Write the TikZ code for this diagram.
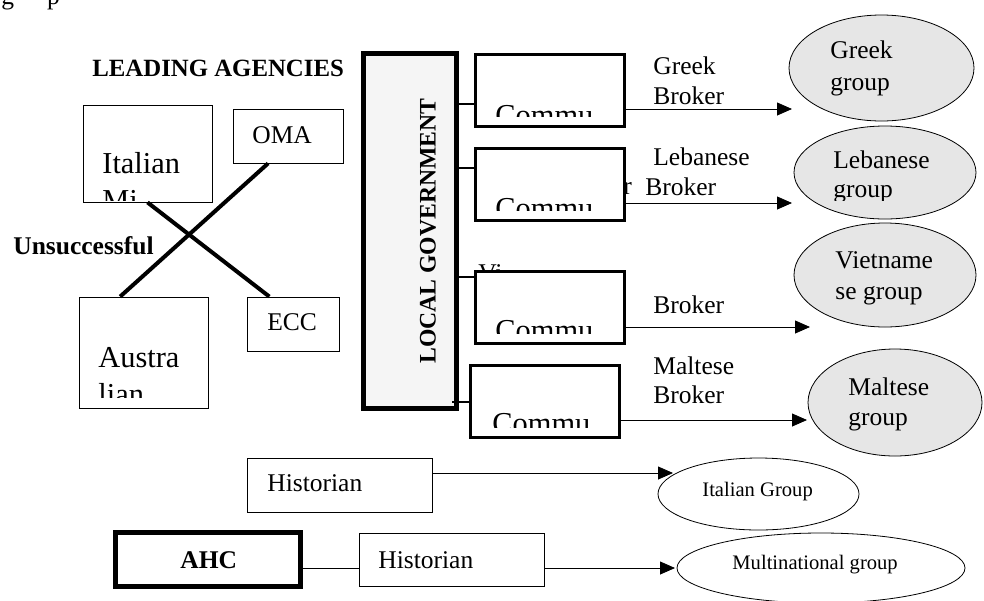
\documentclass[tikz,border=0pt]{standalone}
\usepackage{fontspec}
\setmainfont{Liberation Serif}
\usetikzlibrary{arrows.meta,calc,shapes.geometric}
\definecolor{govfill}{HTML}{F5F5F5}
\definecolor{grpfill}{HTML}{E6E6E6}
\tikzset{>={Triangle[length=7.5pt,width=6.5pt]},line width=1pt,
  box/.style={draw,fill=white,inner sep=0pt},
  thickbox/.style={box,line width=1.7pt},
  grp/.style={ellipse,draw,fill=grpfill,inner sep=0pt},
  lbl/.style={anchor=base west,inner sep=0pt},
  biglbl/.style={lbl,font=\fontsize{15.2}{18}\selectfont},
  smalllbl/.style={lbl,font=\fontsize{10.3}{12}\selectfont},
  cross/.style={line width=2pt},
  link/.style={line width=1pt}}
\begin{document}
\fontsize{12.75}{15}\selectfont
\begin{tikzpicture}[x=.5pt,y=-.5pt]
\clip (0,0) rectangle (984,600);
\node[lbl] (frag) at (1,4) {g\hspace{16.5pt}p};
\node[lbl,font=\fontsize{12.4}{15}\selectfont\bfseries] (lead) at (92,76) {LEADING AGENCIES};
\node[lbl,font=\bfseries] (unsc) at (13,254) {Unsuccessful};
\node[box,minimum width=64.5pt,minimum height=48.5pt] (ital) at (147.5,153.5) {};
\node[box,minimum width=55pt,minimum height=27pt] (oma) at (288,136) {};
\node[box,minimum width=64.5pt,minimum height=55.5pt] (aus) at (143.5,352.5) {};
\node[box,minimum width=46pt,minimum height=27pt] (ecc) at (293,324) {};
\node[biglbl] (italt) at (102,173) {Italian};
\begin{scope}\clip (82,104) rectangle (213,200);\node[biglbl] (italm) at (102,210) {Mi};\end{scope}
\node[lbl] (omat) at (252,143) {OMA};
\node[lbl] (ecct) at (267,330) {ECC};
\node[biglbl] (aust) at (98,367) {Austra};
\begin{scope}\clip (78,296) rectangle (209,397);\node[biglbl] (ausl) at (98,404) {lian};\end{scope}
\draw[cross] (ital.south) -- ($(ecc.north west)!.245!(ecc.north east)$);
\draw[cross] ($(oma.south west)!.32!(oma.south east)$) -- ($(aus.north west)!.32!(aus.north east)$);

\node[box,fill=govfill,line width=2.5pt,minimum width=46.5pt,minimum height=177.5pt] (gov) at (410,231) {};
\node[rotate=90,font=\fontsize{11.85}{14}\selectfont\bfseries] (govt) at (428,231) {LOCAL GOVERNMENT};
\node[lbl] (lbr) at (623,194) {r};
\node[lbl] (vti) at (478,281.5) {Vi};
\node[thickbox,minimum width=74.3pt,minimum height=36pt] (c1) at (550,90.5) {};
\node[thickbox,minimum width=74.3pt,minimum height=36pt] (c2) at (550,184.5) {};
\node[thickbox,minimum width=74.3pt,minimum height=36pt] (c3) at (550,307.5) {};
\node[thickbox,minimum width=74.3pt,minimum height=36pt] (c4) at (545,401.5) {};
\begin{scope}\clip (474,53) rectangle (626,116);\node[biglbl] (c1t) at (495,125) {Commu};\end{scope}
\begin{scope}\clip (474,146) rectangle (626,210);\node[biglbl] (c2t) at (495,218) {Commu};\end{scope}
\begin{scope}\clip (474,269) rectangle (626,333);\node[biglbl] (c3t) at (495,340) {Commu};\end{scope}
\begin{scope}\clip (469,363) rectangle (621,427);\node[biglbl] (c4t) at (492,433) {Commu};\end{scope}
\draw[link] ($(c1.west)+(0,-6.75pt)$) -- ($(c1.west -| gov.east)+(0,-6.75pt)$);
\draw[link] ($(c2.west)+(0,8.25pt)$) -- ($(c2.west -| gov.east)+(0,8.25pt)$);
\draw[link] ($(c3.west)+(0,15.25pt)$) -- ($(c3.west -| gov.east)+(0,15.25pt)$);
\draw[link] (c4.west) -- ($(c4.west -| gov.east)+(-3.5pt,0)$);

\node[grp,minimum width=92.5pt,minimum height=53pt] (gk) at (881.5,68) {};
\node[grp,minimum width=91pt,minimum height=46.5pt] (lb) at (885,172.5) {};
\node[grp,minimum width=91pt,minimum height=52pt] (vt) at (885,275) {};
\node[grp,minimum width=87pt,minimum height=53.5pt] (mt) at (895,402.5) {};
\node[lbl] (gk1) at (830,58) {Greek};\node[lbl] (gk2) at (830,90) {group};
\node[lbl] (lb1) at (833,168) {Lebanese};
\begin{scope}\clip (793,125) rectangle (977,200);\node[lbl] (lb2) at (833,197) {group};\end{scope}
\node[lbl] (vt1) at (835,268) {Vietname};\node[lbl] (vt2) at (835,299) {se group};
\node[lbl] (mt1) at (848,395) {Maltese};\node[lbl] (mt2) at (848,425) {group};
\node[lbl] (gkb1) at (653,74) {Greek};\node[lbl] (gkb2) at (653,104) {Broker};
\node[lbl] (lbb1) at (653,165) {Lebanese};\node[lbl] (lbb2) at (645,195) {Broker};
\node[lbl] (vtb) at (653,313) {Broker};
\node[lbl] (mtb1) at (653,374) {Maltese};\node[lbl] (mtb2) at (653,403) {Broker};
\coordinate (gkin) at (792,109);\coordinate (lbin) at (792,203);
\coordinate (vtin) at (810,327);\coordinate (mtin) at (807,420);
\draw[->] ([yshift=-9.25pt]c1.east) -- (gkin);
\draw[->] ([yshift=-9.25pt]c2.east) -- (lbin);
\draw[->] ([yshift=-9.75pt]c3.east) -- (vtin);
\draw[->] ([yshift=-9.25pt]c4.east) -- (mtin);

\node[box,minimum width=92.5pt,minimum height=27pt] (hist1) at (339.5,485) {};
\node[lbl] (h1t) at (267,491) {Historian};
\node[box,line width=2.3pt,minimum width=92.7pt,minimum height=27.2pt] (ahc) at (208,559.5) {};
\node[lbl,font=\bfseries] (ahct) at (180,568) {AHC};
\node[box,minimum width=92.5pt,minimum height=26.5pt] (hist2) at (451.5,559.5) {};
\node[lbl] (h2t) at (378,568) {Historian};
\node[grp,fill=white,minimum width=100.5pt,minimum height=36pt] (itg) at (758.5,494) {};
\node[grp,fill=white,minimum width=144pt,minimum height=35pt] (mng) at (821,568) {};
\node[smalllbl] (itgt) at (702,496) {Italian Group};
\node[smalllbl] (mngt) at (732,569) {Multinational group};
\coordinate (itin) at (673,473);\coordinate (mnin) at (675,568);
\draw ([yshift=-4.25pt]ahc.east) -- ([yshift=-4.25pt]hist2.west);
\draw[->] ([yshift=6pt]hist1.east) -- (itin);
\draw[->] ([yshift=-4.25pt]hist2.east) -- (mnin);
\end{tikzpicture}
\end{document}
